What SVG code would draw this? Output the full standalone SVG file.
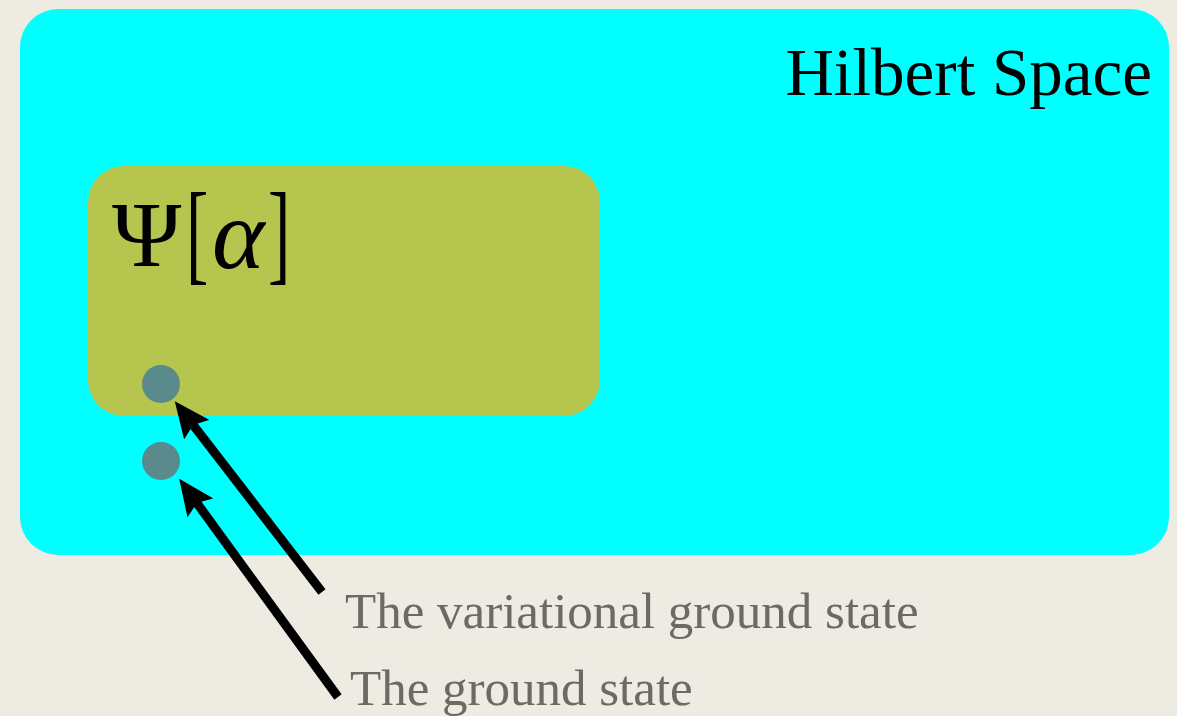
<svg xmlns="http://www.w3.org/2000/svg" width="1177" height="716" viewBox="0 0 1177 716">
<style>
.serif{font-family:"Liberation Serif","DejaVu Serif",serif}
.lbl{font-size:51px;fill:#6b6a64}
.conn{stroke:#000;stroke-width:9;fill:none;marker-end:url(#ah)}
.dot{fill:#5a8a8c}
</style>
<defs>
<marker id="ah" markerUnits="userSpaceOnUse" viewBox="0 0 36 32" markerWidth="36" markerHeight="32" refX="16" refY="16" orient="auto">
<path d="M0,0 L36,16 L0,32 L6,16 z" fill="#000"/>
</marker>
</defs>
<rect width="1177" height="716" fill="#eeebe2"/>
<g id="hilbert">
<rect x="20" y="9" width="1149" height="546" rx="38" fill="#00ffff"/>
<text class="serif" x="1152" y="95" font-size="67" text-anchor="end" fill="#000">Hilbert Space</text>
</g>
<g id="psi">
<rect x="88" y="166" width="512" height="250" rx="36" fill="#b5c54e"/>
<text class="serif" x="112" y="266" font-size="94" fill="#000">Ψ</text>
<text class="serif" transform="translate(186,270) scale(0.6,1)" x="0" y="0" font-size="112" fill="#000">[</text>
<text class="serif" x="212" y="268" font-size="100" font-style="italic" fill="#000">α</text>
<text class="serif" transform="translate(268,270) scale(0.6,1)" x="0" y="0" font-size="112" fill="#000">]</text>
</g>
<g id="variational-ground-state">
<circle class="dot" cx="161" cy="384" r="19"/>
</g>
<g id="ground-state">
<circle class="dot" cx="161" cy="461" r="19"/>
</g>
<g id="connectors">
<line class="conn" x1="322" y1="592" x2="187" y2="417"/>
<line class="conn" x1="338" y1="697" x2="191" y2="495"/>
</g>
<g id="labels">
<text class="serif lbl" x="345" y="628">The variational ground state</text>
<text class="serif lbl" x="350" y="705">The ground state</text>
</g>
</svg>
